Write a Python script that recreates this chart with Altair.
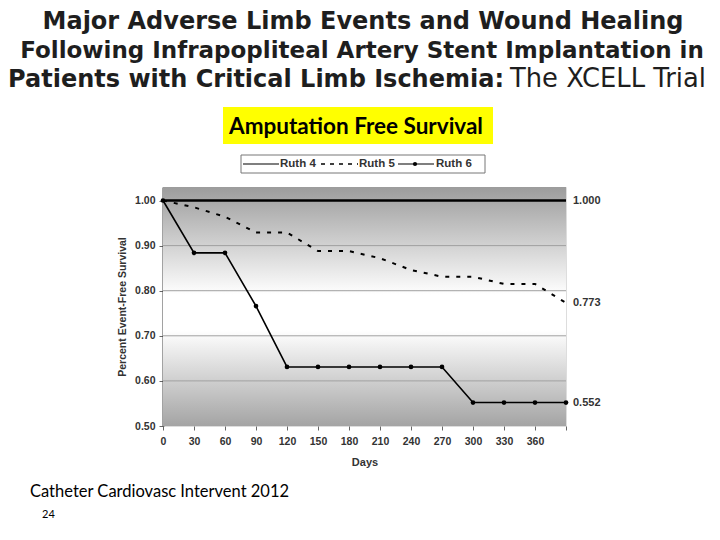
import altair as alt
import pandas as pd

# ---- data ----
days = [0, 30, 60, 90, 120, 150, 180, 210, 240, 270, 300, 330, 360, 390]
ruth4 = [1.000, 1.000, 1.000, 1.000, 1.000, 1.000, 1.000, 1.000, 1.000, 1.000, 1.000, 1.000, 1.000, 1.000]
ruth5 = [1.000, 0.985, 0.964, 0.929, 0.929, 0.888, 0.888, 0.872, 0.846, 0.831, 0.831, 0.815, 0.815, 0.773]
ruth6 = [1.000, 0.884, 0.884, 0.766, 0.631, 0.631, 0.631, 0.631, 0.631, 0.631, 0.552, 0.552, 0.552, 0.552]
x_ticks = [0, 30, 60, 90, 120, 150, 180, 210, 240, 270, 300, 330, 360, 390]
y_ticks = [0.5, 0.6, 0.7, 0.8, 0.9, 1.0]
grid_vals = [0.6, 0.7, 0.8, 0.9]
end_days = [390, 390, 390]
end_vals = [1.000, 0.773, 0.552]
end_labels = ["1.000", "0.773", "0.552"]

title_lines = [
    "Major Adverse Limb Events and Wound Healing",
    "Following Infrapopliteal Artery Stent Implantation in",
    "Patients with Critical Limb Ischemia:",
]
title_tail = "The XCELL Trial"
box_title = "Amputation Free Survival"
series_names = ["Ruth 4", "Ruth 5", "Ruth 6"]
citation = "Catheter Cardiovasc Intervent 2012"
page_no = "24"

W, H = 403, 239
FONT = "Liberation Sans"
TFONT = "DejaVu Sans"

df = pd.DataFrame({"day": days, "r4": ruth4, "r5": ruth5, "r6": ruth6})
df_end = pd.DataFrame({"day": end_days, "v": end_vals, "lab": end_labels})
df_grid = pd.DataFrame({"g": grid_vals})
one = pd.DataFrame({"a": [0]})

xs = alt.Scale(domain=[0, 390], nice=False, zero=False)
ys = alt.Scale(domain=[0.5, 1.03], nice=False, zero=False)

xaxis = alt.Axis(
    values=x_ticks, title="Days", grid=False, domain=False,
    labelExpr="datum.value == 390 ? '' : datum.label",
    labelOverlap=False, labelFlush=False,
    labelFont=FONT, labelFontWeight="bold", labelFontSize=10.5, labelColor="#333",
    tickColor="#666", tickSize=4, labelPadding=6,
    titleFont=FONT, titleFontWeight="bold", titleFontSize=11, titleColor="#333",
    titleY=39, titleBaseline="alphabetic")
yaxis = alt.Axis(
    values=y_ticks, format=".2f", title="Percent Event-Free Survival", grid=False,
    labelOverlap=False,
    domainColor="#444", domainWidth=2, tickColor="#666", tickSize=4, labelPadding=4,
    labelFont=FONT, labelFontWeight="bold", labelFontSize=10.5, labelColor="#333",
    titleFont=FONT, titleFontWeight="bold", titleFontSize=10.5, titleColor="#333",
    titleX=-41, titleY=H / 2, titleBaseline="middle", titleAngle=-90)


def X(f):
    return alt.X(f, type="quantitative", scale=xs, axis=xaxis)


def Y(f):
    return alt.Y(f, type="quantitative", scale=ys, axis=yaxis)


bg = alt.Chart(one).mark_rect(
    color=alt.Gradient(
        gradient="linear", x1=0, x2=0, y1=0, y2=1,
        stops=[alt.GradientStop(color="#9c9c9c", offset=0),
               alt.GradientStop(color="#ffffff", offset=0.45),
               alt.GradientStop(color="#ffffff", offset=0.6),
               alt.GradientStop(color="#a4a4a4", offset=1)])
).encode(x=alt.value(0), x2=alt.value(W), y=alt.value(0), y2=alt.value(H))

grid = alt.Chart(df_grid).mark_rule(color="#a0a0a0", strokeWidth=1).encode(
    y=Y("g"), x=alt.value(0), x2=alt.value(W))

base = alt.Chart(df)

l4 = base.mark_line(color="#000", strokeWidth=2.5).encode(x=X("day"), y=Y("r4"))
l5 = base.mark_line(color="#000", strokeWidth=2, strokeDash=[4, 7]).encode(
    x=X("day"), y=Y("r5"))
l6 = base.mark_line(color="#000", strokeWidth=1.6).encode(x=X("day"), y=Y("r6"))
p6 = base.mark_circle(color="#000", size=22, opacity=1).encode(x=X("day"), y=Y("r6"))

ends = alt.Chart(df_end).mark_text(
    align="left", baseline="middle", dx=7, font=FONT, fontSize=11,
    fontWeight="bold", color="#333").encode(
    x=X("day"), y=Y("v"), text="lab:N")


def txt(s, x, y, size, weight="normal", align="left", baseline="alphabetic",
        font=FONT, color="#000"):
    return alt.Chart(one).mark_text(
        text=s, align=align, baseline=baseline, font=font, fontSize=size,
        fontWeight=weight, color=color).encode(x=alt.value(x), y=alt.value(y))


def rule(x1, x2, y, width=1.2, dash=None, color="#000"):
    kw = dict(color=color, strokeWidth=width)
    if dash:
        kw["strokeDash"] = dash
    return alt.Chart(one).mark_rule(**kw).encode(
        x=alt.value(x1), x2=alt.value(x2), y=alt.value(y))


TC = "#1e1e1e"
annots = [
    txt(title_lines[0], 200, -158, 24, "bold", "center", font=TFONT, color=TC),
    txt(title_lines[1], 199, -129, 23.0, "bold", "center", font=TFONT, color=TC),
    txt(title_lines[2], 341, -100, 24, "bold", "right", font=TFONT, color=TC),
    txt(title_tail, 347, -100, 25.8, "normal", "left", font=TFONT, color=TC),
    # yellow box
    alt.Chart(one).mark_rect(color="#ffff00").encode(
        x=alt.value(60), x2=alt.value(330), y=alt.value(-80), y2=alt.value(-43)),
    txt(box_title, 193, -53, 22.5, "bold", "center", font="Lato"),
    # legend box
    alt.Chart(one).mark_rect(fill="#ffffff", stroke="#777", strokeWidth=1).encode(
        x=alt.value(78), x2=alt.value(322), y=alt.value(-32), y2=alt.value(-14)),
    rule(80, 116, -23, 1.2),
    txt(series_names[0], 117, -23, 11.5, "bold", "left", "middle", color="#333"),
    rule(158, 195, -23, 1.6, [4, 5]),
    txt(series_names[1], 196, -23, 11.5, "bold", "left", "middle", color="#333"),
    rule(235, 271, -23, 1.2),
    alt.Chart(one).mark_circle(color="#000", size=18, opacity=1).encode(
        x=alt.value(252), y=alt.value(-23)),
    txt(series_names[2], 273, -23, 11.5, "bold", "left", "middle", color="#333"),
    # footer
    txt(citation, -133, 310, 16.5, "normal", "left", font="Lato"),
    txt(page_no, -121, 331, 11, "normal", "left", font="Lato"),
]

chart = alt.layer(bg, grid, l4, l5, l6, p6, ends, *annots).properties(
    width=W, height=H,
    padding={"left": 155, "top": 179, "right": 146, "bottom": 110},
    autosize=alt.AutoSizeParams(type="none"),
).configure_view(stroke="#888", strokeWidth=1.5).configure(background="white")

chart.save("out.html", embed_options={"renderer": "svg", "actions": False})
